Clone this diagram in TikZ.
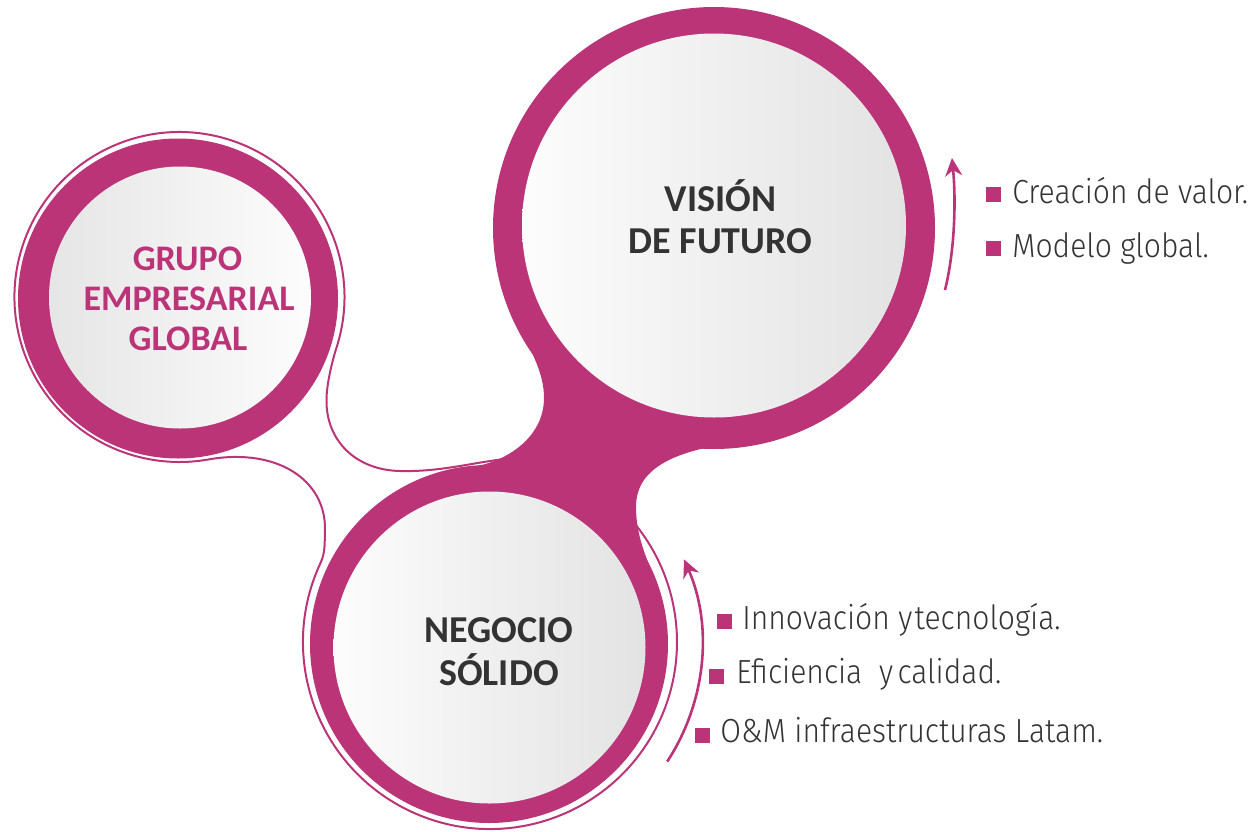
\documentclass[tikz,border=0pt]{standalone}
\usepackage{fontspec}
\setmainfont{Carlito}
\newfontfamily\bulfont{Fira Sans Light}[FakeStretch=0.9]
\usetikzlibrary{arrows.meta}
\definecolor{mag}{HTML}{BC3478}
\definecolor{txt}{HTML}{333333}
\begin{document}
\begin{tikzpicture}[x=0.5pt,y=-0.5pt,
  ringc/.style={circle, fill=mag, draw=none, inner sep=0pt, outer sep=0pt},
  disc/.style={circle, draw=none, inner sep=0pt, outer sep=0pt},
  wire/.style={draw=mag, line width=1pt},
  arr/.style={draw=mag, line width=1.3pt, -{Stealth[length=9pt,width=8.5pt]}},
  head/.style={font=\fontsize{19}{19}\selectfont\bfseries, text=txt, inner sep=0pt, anchor=base},
  ghead/.style={font=\fontsize{18}{18}\selectfont\bfseries, text=mag, inner sep=0pt, anchor=base},
  bul/.style={fill=mag, draw=none, minimum size=7.5pt, inner sep=0pt},
  bultxt/.style={font=\bulfont\fontsize{16.7}{16.7}\selectfont, text=txt, inner sep=0pt, anchor=base west}]
\useasboundingbox (0,0) rectangle (1249,831);
% outer rings
\node[ringc, minimum size=221pt] (topO) at (714,228) {};
\node[ringc, minimum size=179pt] (botO) at (489,644) {};
\node[ringc, minimum size=160pt] (lefO) at (178,298.5) {};
% neck
\fill[mag] (500.5,285.2) .. controls (515,330) and (544,360) .. (544,398)
  .. controls (544,438) and (505,463) .. (470.3,467)
  -- (489,644) -- (655,580)
  .. controls (646,557) and (636,535) .. (636,507)
  .. controls (636,465) and (680,446) .. (770,439)
  -- (714,228) -- cycle;
% inner discs
\node[disc, minimum size=192pt, left color=black!1, right color=black!11] (topI) at (714,225.5) {};
\node[disc, minimum size=156pt, left color=black!1, right color=black!11] (botI) at (489.5,647.5) {};
\node[disc, minimum size=131pt, left color=black!10, right color=black!1] (lefI) at (180,297.5) {};
% thin outline
\coordinate (w0) at (505,459);
\coordinate (w1) at (400,471);
\coordinate (w2) at (326.5,400);
\coordinate (w3) at (336.4,348);
\coordinate (w4) at (325,530);
\coordinate (w5) at (320.5,563);
\draw[wire] (w0) .. controls (470,463) and (440,472) .. (w1)
  .. controls (355,470) and (326,440) .. (w2)
  .. controls (326.5,385) and (331.8,362.3) .. (w3)
  arc[start angle=18, end angle=-280, radius=165]
  .. controls (277,447.3) and (326,480) .. (w4)
  .. controls (324.5,542) and (325.6,552.1) .. (w5)
  arc[start angle=205, end angle=-40, radius=187];
% arrows
\coordinate (a1s) at (945,290);
\coordinate (a1e) at (952,158);
\draw[arr] (a1s) .. controls (955,250) and (956,200) .. (a1e);
\coordinate (a2s) at (667.2,761.6);
\draw[arr] (a2s) arc[start angle=33.2, end angle=-23.7, radius=213];
% labels
\node[head] (v1) at (720.5,211) {VISIÓN};
\node[head] (v2) at (720.5,253) {DE FUTURO};
\node[head] (n1) at (499,642) {NEGOCIO};
\node[head] (n2) at (499,685) {SÓLIDO};
\node[ghead] (g1) at (187.5,270) {GRUPO};
\node[ghead] (g2) at (189,310) {EMPRESARIAL};
\node[ghead] (g3) at (188,350) {GLOBAL};
% bullets
\node[bul] (b1) at (993,194) {};
\node[bultxt] (t1) at (1012,203) {Creación de valor.};
\node[bul] (b2) at (993,248) {};
\node[bultxt] (t2) at (1012,257) {Modelo global.};
\node[bul] (b3) at (724,621) {};
\node[bultxt] (t3) at (742,629) {Innovación y\hspace{-3pt} tecnología.};
\node[bul] (b4) at (716.5,676.5) {};
\node[bultxt] (t4) at (736,683) {Eficiencia\ \ y\hspace{-2pt} calidad.};
\node[bul] (b5) at (702.5,735) {};
\node[bultxt] (t5) at (720,742) {O\&M infraestructuras Latam.};
\end{tikzpicture}
\end{document}
